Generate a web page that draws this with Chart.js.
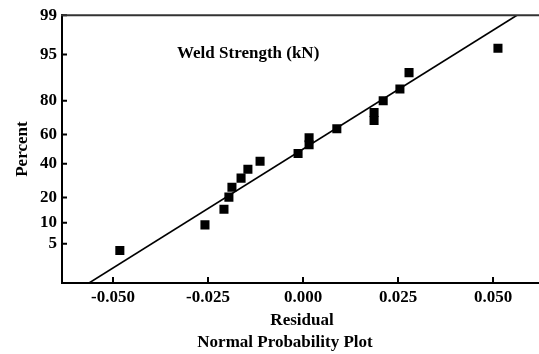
<!DOCTYPE html>
<html>
<head>
<meta charset="utf-8">
<script src="https://cdn.jsdelivr.net/npm/chart.js@4.4.1/dist/chart.umd.min.js"></script>
<style>
  html, body { margin: 0; padding: 0; background: #fff; overflow: hidden; }
  #wrap { width: 539px; height: 354px; overflow: hidden; }
</style>
</head>
<body>
<div id="wrap"><canvas id="chart" width="570" height="354"></canvas></div>
<script>
// residuos ordenados y su posicion en la escala de probabilidad (%)
const residuals = [-0.0482, -0.0258, -0.0208, -0.0195, -0.0187, -0.0163, -0.0145, -0.0113, -0.0013,
                   0.0016, 0.0016, 0.0089, 0.0187, 0.0187, 0.0211, 0.0255, 0.0279, 0.0513];
const percents = [3.9, 9.4, 14.8, 20.2, 25.4, 30.7, 36.3, 41.6, 47.0,
                  53.0, 57.8, 63.8, 69.0, 73.8, 80.0, 85.2, 90.8, 96.0];

// recta de ajuste (extremos)
const lineResiduals = [-0.0563, 0.0563];
const linePercents = [1, 99];

const xTicks = [-0.05, -0.025, 0, 0.025, 0.05];
const yTicks = [5, 10, 20, 40, 60, 80, 95, 99];

// inversa de la normal (Acklam) para la escala de probabilidad
function probit(p) {
    const a = [-3.969683028665376e+01, 2.209460984245205e+02, -2.759285104469687e+02, 1.383577518672690e+02, -3.066479806614716e+01, 2.506628277459239e+00];
    const b = [-5.447609879822406e+01, 1.615858368580409e+02, -1.556989798598866e+02, 6.680131188771972e+01, -1.328068155288572e+01];
    const c = [-7.784894002430293e-03, -3.223964580411365e-01, -2.400758277161838e+00, -2.549732539343734e+00, 4.374664141464968e+00, 2.938163982698783e+00];
    const d = [7.784695709041462e-03, 3.224671290700398e-01, 2.445134137142996e+00, 3.754408661907416e+00];
    const plow = 0.02425;
    let q, r;
    if (p < plow) {
        q = Math.sqrt(-2 * Math.log(p));
        return (((((c[0]*q+c[1])*q+c[2])*q+c[3])*q+c[4])*q+c[5]) / ((((d[0]*q+d[1])*q+d[2])*q+d[3])*q+1);
    }
    if (p > 1 - plow) {
        q = Math.sqrt(-2 * Math.log(1 - p));
        return -(((((c[0]*q+c[1])*q+c[2])*q+c[3])*q+c[4])*q+c[5]) / ((((d[0]*q+d[1])*q+d[2])*q+d[3])*q+1);
    }
    q = p - 0.5;
    r = q * q;
    return (((((a[0]*r+a[1])*r+a[2])*r+a[3])*r+a[4])*r+a[5])*q / (((((b[0]*r+b[1])*r+b[2])*r+b[3])*r+b[4])*r+1);
}

const z = pct => probit(pct / 100);

// marcas hacia dentro, borde superior y texto interior
const frame = {
    id: 'frame',
    afterDraw(chart) {
        const {ctx, chartArea: area, scales: {x, y}} = chart;
        ctx.save();
        ctx.strokeStyle = '#000';
        ctx.lineWidth = 2;
        ctx.beginPath();
        x.ticks.forEach(t => {
            const px = x.getPixelForValue(t.value);
            ctx.moveTo(px, area.bottom);
            ctx.lineTo(px, area.bottom - 6);
        });
        y.ticks.forEach(t => {
            const py = y.getPixelForValue(t.value);
            ctx.moveTo(area.left, py);
            ctx.lineTo(area.left + 5, py);
        });
        ctx.stroke();

        ctx.strokeStyle = '#333';
        ctx.beginPath();
        ctx.moveTo(area.left - 1, area.top);
        ctx.lineTo(area.right, area.top);
        ctx.stroke();

        ctx.fillStyle = '#000';
        ctx.font = 'bold 17px "Liberation Serif"';
        ctx.textBaseline = 'middle';
        ctx.fillText('Weld Strength (kN)', area.left + 115, area.top + 38);
        ctx.restore();
    }
};

Chart.defaults.font.family = '"Liberation Serif", "Times New Roman", serif';
Chart.defaults.font.weight = 'bold';
Chart.defaults.font.size = 17;
Chart.defaults.color = '#000';

new Chart(document.getElementById('chart'), {
    type: 'scatter',
    data: {
        datasets: [{
            data: residuals.map((r, i) => ({x: r, y: z(percents[i])})),
            pointStyle: 'rect',
            pointRadius: 6.4,
            backgroundColor: '#000',
            borderWidth: 0
        }, {
            data: lineResiduals.map((r, i) => ({x: r, y: z(linePercents[i])})),
            showLine: true,
            pointRadius: 0,
            borderColor: '#000',
            borderWidth: 1.6
        }]
    },
    options: {
        responsive: false,
        animation: false,
        layout: { padding: { top: 12, right: 0, bottom: 0, left: 0 } },
        plugins: {
            legend: { display: false },
            tooltip: { enabled: false },
            title: {
                display: true,
                position: 'bottom',
                text: 'Normal Probability Plot',
                font: { size: 17, weight: 'bold' },
                color: '#000',
                padding: { top: 0, bottom: 1 }
            }
        },
        scales: {
            x: {
                type: 'linear',
                min: -0.06342,
                max: 0.06289,
                afterBuildTicks: s => { s.ticks = xTicks.map(v => ({value: v})); },
                afterFit: s => { s.height = 49.6; },
                ticks: { callback: v => v.toFixed(3), padding: 4 },
                grid: { drawOnChartArea: false, drawTicks: false },
                border: { color: '#000', width: 2 },
                title: { display: true, text: 'Residual', padding: { top: 0, bottom: 1.4 } }
            },
            y: {
                type: 'linear',
                min: z(1),
                max: z(99),
                afterBuildTicks: s => { s.ticks = yTicks.map(p => ({value: z(p)})); },
                afterFit: s => { s.width = 62; },
                ticks: { callback: (v, i) => yTicks[i], padding: 5 },
                grid: { drawOnChartArea: false, drawTicks: false },
                border: { color: '#000', width: 2 },
                title: { display: true, text: 'Percent', padding: { top: 12.8, bottom: 0 } }
            },
            // eje vacio a la derecha: solo reserva espacio (el grafico queda recortado)
            yRight: {
                type: 'linear',
                position: 'right',
                afterFit: s => { s.width = 28; },
                ticks: { display: false },
                grid: { display: false, drawTicks: false },
                border: { display: false }
            }
        }
    },
    plugins: [frame]
});
</script>
</body>
</html>
